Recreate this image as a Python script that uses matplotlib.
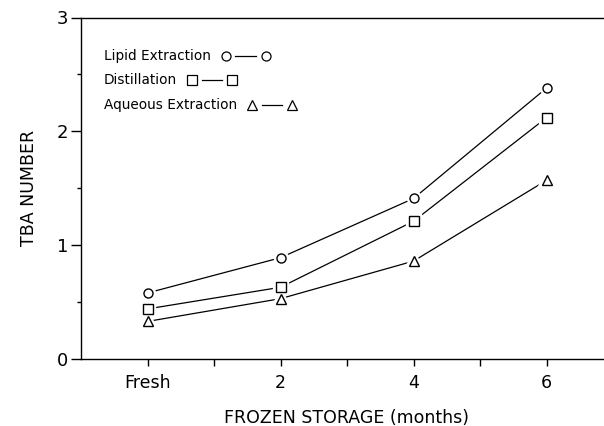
import matplotlib
matplotlib.use("Agg")
import matplotlib.pyplot as plt
from matplotlib.lines import Line2D
from matplotlib.offsetbox import TextArea, DrawingArea, HPacker, VPacker, AnchoredOffsetbox

months = [0, 2, 4, 6]
tick_labels = ["Fresh", "2", "4", "6"]
lipid = [0.58, 0.89, 1.41, 2.38]
distillation = [0.44, 0.63, 1.21, 2.12]
aqueous = [0.33, 0.53, 0.86, 1.57]

series = [
    ("Lipid Extraction", lipid, "o"),
    ("Distillation", distillation, "s"),
    ("Aqueous Extraction", aqueous, "^"),
]

plt.rcParams['font.family'] = ['DejaVu Sans']

fig = plt.figure(figsize=(6.04, 4.26), dpi=100)
ax = fig.add_axes([81/604, 1-359/426, (613-81)/604, (359-17.5)/426])

ms = 6.5
for name, vals, mk in series:
    ax.plot(months, vals, color='black', lw=0.9, zorder=2)
    ax.plot(months, vals, ls='none', marker=mk, ms=ms, mfc='white', mec='white', mew=4.5, zorder=3)
    ax.plot(months, vals, ls='none', marker=mk, ms=ms, mfc='white', mec='black', mew=1.0, zorder=4)

ax.set_xlim(-1, 7)
ax.set_ylim(0, 3)
ax.set_xticks(months)
ax.set_xticklabels(tick_labels)
ax.set_xticks([1, 3, 5], minor=True)
ax.set_yticks([0, 1, 2, 3])
ax.set_yticks([0.5, 1.5, 2.5], minor=True)
ax.spines['right'].set_visible(False)
for s in ['left', 'top', 'bottom']:
    ax.spines[s].set_linewidth(1.0)
ax.tick_params(axis='x', which='both', direction='out', length=5, width=1.0, labelsize=12.5, pad=6)
ax.tick_params(axis='y', which='major', direction='out', length=7, width=1.0, labelsize=13, pad=2)
ax.tick_params(axis='y', which='minor', direction='out', length=3, width=1.0)
ax.tick_params(colors='black')

ax.set_xlabel("FROZEN STORAGE (months)", fontsize=12.5, labelpad=12)
ax.set_ylabel("TBA NUMBER", fontsize=12.5, labelpad=14)

# legend: text followed by marker-line-marker
rows = []
for name, vals, mk in series:
    ta = TextArea(name, textprops=dict(fontsize=9.8, color='black'))
    da = DrawingArea(36, 8, 0, 0)
    da.add_artist(Line2D([10.5, 25.5], [4, 4], color='black', lw=0.9))
    da.add_artist(Line2D([3.5, 32.5], [4, 4], ls='none', marker=mk, ms=6.5, mfc='white', mec='black', mew=0.9))
    rows.append(HPacker(children=[ta, da], align='center', pad=0, sep=7))
box = VPacker(children=rows, align='left', pad=0, sep=7.5)
anch = AnchoredOffsetbox(loc='upper left', child=box, pad=0, frameon=False,
                         bbox_to_anchor=(104/604, 1-49/426), bbox_transform=fig.transFigure, borderpad=0)
ax.add_artist(anch)

fig.savefig("out.png", dpi=100)
